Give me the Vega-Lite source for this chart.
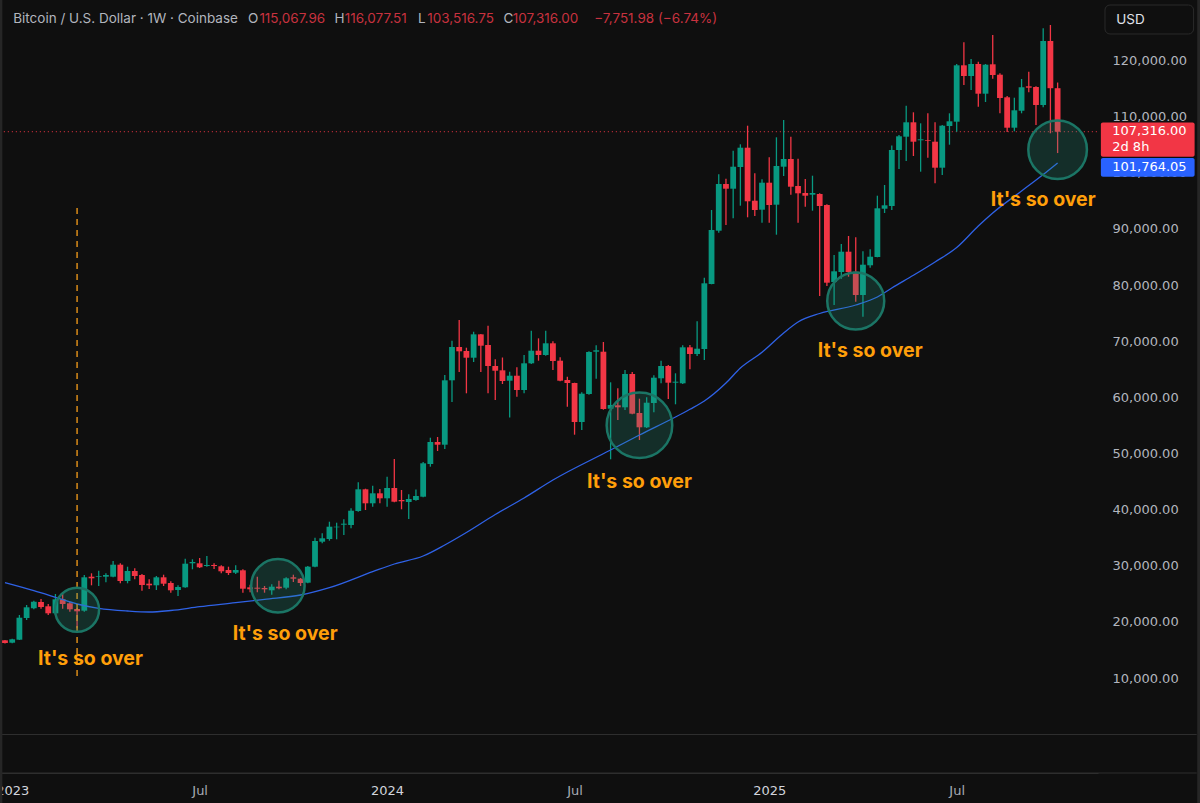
{
  "$schema": "https://vega.github.io/schema/vega-lite/v6.json",
  "autosize": {"type": "none"},
  "width": 1098,
  "height": 773,
  "padding": {"left": 0, "top": 0, "right": 102, "bottom": 30},
  "background": "#0f0f0f",
  "view": {"stroke": null},
  "config": {"font": "Inter"},
  "resolve": {"scale": {"color": "independent"}},
  "datasets": {
    "candles": [
      {"d":"2022-12-26","o":16738,"h":16791,"l":16168,"c":16257},
      {"d":"2023-01-02","o":16310,"h":17023,"l":16203,"c":16916},
      {"d":"2023-01-09","o":16844,"h":21243,"l":16791,"c":20763},
      {"d":"2023-01-16","o":20709,"h":23025,"l":20353,"c":22615},
      {"d":"2023-01-23","o":22437,"h":23790,"l":22259,"c":23612},
      {"d":"2023-01-30","o":23559,"h":24093,"l":22366,"c":22668},
      {"d":"2023-02-06","o":22793,"h":23203,"l":21243,"c":21546},
      {"d":"2023-02-13","o":21546,"h":24984,"l":21243,"c":24040},
      {"d":"2023-02-20","o":24040,"h":25108,"l":22366,"c":23203},
      {"d":"2023-02-27","o":23327,"h":23612,"l":21831,"c":22259},
      {"d":"2023-03-06","o":22312,"h":22490,"l":18875,"c":21902},
      {"d":"2023-03-13","o":22009,"h":28368,"l":21831,"c":27958},
      {"d":"2023-03-20","o":28065,"h":28670,"l":26533,"c":27780},
      {"d":"2023-03-27","o":28065,"h":29133,"l":26408,"c":28189},
      {"d":"2023-04-03","o":28065,"h":28670,"l":27067,"c":28368},
      {"d":"2023-04-10","o":28065,"h":30861,"l":27958,"c":30202},
      {"d":"2023-04-17","o":30202,"h":30451,"l":26889,"c":27299},
      {"d":"2023-04-24","o":27299,"h":29846,"l":26889,"c":29080},
      {"d":"2023-05-01","o":29080,"h":29561,"l":27602,"c":28189},
      {"d":"2023-05-08","o":28368,"h":28546,"l":25571,"c":26587},
      {"d":"2023-05-15","o":26818,"h":27602,"l":25874,"c":26533},
      {"d":"2023-05-22","o":26533,"h":28189,"l":25696,"c":27958},
      {"d":"2023-05-29","o":27958,"h":28421,"l":26408,"c":26818},
      {"d":"2023-06-05","o":26943,"h":27245,"l":25215,"c":25643},
      {"d":"2023-06-12","o":25696,"h":26533,"l":24627,"c":26230},
      {"d":"2023-06-19","o":26177,"h":31271,"l":26106,"c":30380},
      {"d":"2023-06-26","o":30451,"h":31164,"l":29383,"c":30683},
      {"d":"2023-07-03","o":30451,"h":31395,"l":29614,"c":29739},
      {"d":"2023-07-10","o":29970,"h":31751,"l":29846,"c":30149},
      {"d":"2023-07-17","o":30149,"h":30451,"l":29436,"c":29970},
      {"d":"2023-07-24","o":29917,"h":30095,"l":28670,"c":29027},
      {"d":"2023-07-31","o":29258,"h":29846,"l":28368,"c":28724},
      {"d":"2023-08-07","o":28777,"h":30095,"l":28546,"c":29258},
      {"d":"2023-08-14","o":29205,"h":29383,"l":25215,"c":25928},
      {"d":"2023-08-21","o":26177,"h":26640,"l":25286,"c":25821},
      {"d":"2023-08-28","o":26106,"h":28065,"l":25286,"c":25928},
      {"d":"2023-09-04","o":26052,"h":26408,"l":25215,"c":25821},
      {"d":"2023-09-11","o":25643,"h":26711,"l":24859,"c":26284},
      {"d":"2023-09-18","o":26284,"h":27352,"l":25821,"c":25999},
      {"d":"2023-09-25","o":26106,"h":27958,"l":25821,"c":27780},
      {"d":"2023-10-02","o":27958,"h":28421,"l":27121,"c":27709},
      {"d":"2023-10-09","o":27709,"h":27833,"l":26408,"c":26943},
      {"d":"2023-10-16","o":27000,"h":29970,"l":26889,"c":29846},
      {"d":"2023-10-23","o":29846,"h":35011,"l":29739,"c":34423},
      {"d":"2023-10-30","o":34298,"h":35795,"l":34013,"c":34904},
      {"d":"2023-11-06","o":34779,"h":37860,"l":34476,"c":36970},
      {"d":"2023-11-13","o":36863,"h":37682,"l":34726,"c":36970},
      {"d":"2023-11-20","o":37326,"h":38288,"l":35492,"c":37504},
      {"d":"2023-11-27","o":37273,"h":40247,"l":36684,"c":39819},
      {"d":"2023-12-04","o":39766,"h":44877,"l":39641,"c":43631},
      {"d":"2023-12-11","o":43631,"h":43738,"l":39944,"c":41137},
      {"d":"2023-12-18","o":41137,"h":44272,"l":40532,"c":42918},
      {"d":"2023-12-25","o":42918,"h":43684,"l":41137,"c":42027},
      {"d":"2024-01-01","o":42027,"h":45875,"l":40532,"c":43862},
      {"d":"2024-01-08","o":43862,"h":49027,"l":41315,"c":41422},
      {"d":"2024-01-15","o":41725,"h":43506,"l":40069,"c":41494},
      {"d":"2024-01-22","o":41369,"h":42740,"l":38341,"c":41903},
      {"d":"2024-01-29","o":41725,"h":43595,"l":41600,"c":42437},
      {"d":"2024-02-05","o":42313,"h":48493,"l":42206,"c":48261},
      {"d":"2024-02-12","o":48137,"h":52820,"l":47656,"c":52055},
      {"d":"2024-02-19","o":52055,"h":52946,"l":50452,"c":51574},
      {"d":"2024-02-26","o":51574,"h":63990,"l":50808,"c":63042},
      {"d":"2024-03-04","o":63042,"h":70095,"l":59179,"c":68973},
      {"d":"2024-03-11","o":68973,"h":73783,"l":64536,"c":68207},
      {"d":"2024-03-18","o":68261,"h":68849,"l":60727,"c":67068},
      {"d":"2024-03-25","o":67068,"h":71692,"l":66302,"c":71229},
      {"d":"2024-04-01","o":71229,"h":71283,"l":64536,"c":69206},
      {"d":"2024-04-08","o":69330,"h":72768,"l":60727,"c":65590},
      {"d":"2024-04-15","o":65590,"h":66783,"l":59535,"c":64750},
      {"d":"2024-04-22","o":64821,"h":67104,"l":62385,"c":62919},
      {"d":"2024-04-29","o":62972,"h":64577,"l":56437,"c":63861},
      {"d":"2024-05-06","o":63861,"h":65357,"l":60121,"c":61316},
      {"d":"2024-05-13","o":61316,"h":67549,"l":60727,"c":66070},
      {"d":"2024-05-20","o":66070,"h":71878,"l":65946,"c":68315},
      {"d":"2024-05-27","o":68315,"h":70517,"l":66534,"c":67549},
      {"d":"2024-06-03","o":67549,"h":71878,"l":67424,"c":69633},
      {"d":"2024-06-10","o":69633,"h":69990,"l":64877,"c":66480},
      {"d":"2024-06-17","o":66534,"h":67139,"l":62866,"c":62972},
      {"d":"2024-06-24","o":63097,"h":63687,"l":58343,"c":62564},
      {"d":"2024-07-01","o":62564,"h":62618,"l":53356,"c":55617},
      {"d":"2024-07-08","o":55617,"h":60906,"l":54192,"c":60659},
      {"d":"2024-07-15","o":60603,"h":68209,"l":60478,"c":68084},
      {"d":"2024-07-22","o":68137,"h":69277,"l":63331,"c":68387},
      {"d":"2024-07-29","o":68137,"h":69864,"l":57809,"c":57932},
      {"d":"2024-08-05","o":57985,"h":62688,"l":48974,"c":58644},
      {"d":"2024-08-12","o":58590,"h":61618,"l":55973,"c":58234},
      {"d":"2024-08-19","o":58234,"h":64878,"l":57753,"c":64165},
      {"d":"2024-08-26","o":64165,"h":64521,"l":56989,"c":57096},
      {"d":"2024-09-02","o":57221,"h":59768,"l":52411,"c":54672},
      {"d":"2024-09-09","o":54672,"h":60018,"l":54547,"c":59054},
      {"d":"2024-09-16","o":59001,"h":63934,"l":57345,"c":63509},
      {"d":"2024-09-23","o":63402,"h":66534,"l":62509,"c":65590},
      {"d":"2024-09-30","o":65590,"h":65768,"l":59713,"c":62617},
      {"d":"2024-10-07","o":62617,"h":64291,"l":58771,"c":62795},
      {"d":"2024-10-14","o":62509,"h":69277,"l":62385,"c":68919},
      {"d":"2024-10-21","o":68919,"h":69330,"l":65003,"c":67727},
      {"d":"2024-10-28","o":67727,"h":73552,"l":67371,"c":68672},
      {"d":"2024-11-04","o":68618,"h":81317,"l":66659,"c":80319},
      {"d":"2024-11-11","o":80195,"h":93374,"l":80141,"c":89812},
      {"d":"2024-11-18","o":89687,"h":99733,"l":89331,"c":98005},
      {"d":"2024-11-25","o":98005,"h":98949,"l":90703,"c":97167},
      {"d":"2024-12-02","o":97167,"h":103935,"l":91895,"c":101086},
      {"d":"2024-12-09","o":101033,"h":105075,"l":94140,"c":104470},
      {"d":"2024-12-16","o":104470,"h":108388,"l":92074,"c":94924},
      {"d":"2024-12-23","o":95030,"h":99910,"l":92305,"c":93374},
      {"d":"2024-12-30","o":93428,"h":98841,"l":91112,"c":98237},
      {"d":"2025-01-06","o":98237,"h":102760,"l":91112,"c":94264},
      {"d":"2025-01-13","o":94318,"h":106322,"l":88975,"c":101211},
      {"d":"2025-01-20","o":101086,"h":109403,"l":99429,"c":102457},
      {"d":"2025-01-27","o":102457,"h":106429,"l":96099,"c":97523},
      {"d":"2025-02-03","o":97648,"h":102510,"l":91112,"c":96348},
      {"d":"2025-02-10","o":96402,"h":98895,"l":93963,"c":95921},
      {"d":"2025-02-17","o":96099,"h":99483,"l":93250,"c":96402},
      {"d":"2025-02-24","o":96223,"h":96348,"l":78057,"c":94086},
      {"d":"2025-03-03","o":94264,"h":94389,"l":79839,"c":80427},
      {"d":"2025-03-10","o":80551,"h":85360,"l":76454,"c":82457},
      {"d":"2025-03-17","o":82332,"h":87319,"l":81139,"c":85948},
      {"d":"2025-03-24","o":85948,"h":88744,"l":81495,"c":82332},
      {"d":"2025-03-31","o":82385,"h":88512,"l":77044,"c":78236},
      {"d":"2025-04-07","o":78236,"h":86018,"l":74372,"c":83632},
      {"d":"2025-04-14","o":83525,"h":86375,"l":83097,"c":85056},
      {"d":"2025-04-21","o":85003,"h":95921,"l":84950,"c":93677},
      {"d":"2025-04-28","o":93605,"h":97826,"l":92840,"c":94211},
      {"d":"2025-05-05","o":94086,"h":104862,"l":93374,"c":104060},
      {"d":"2025-05-12","o":104060,"h":106732,"l":100676,"c":106500},
      {"d":"2025-05-19","o":106429,"h":111950,"l":102101,"c":108994},
      {"d":"2025-05-26","o":108994,"h":110774,"l":102991,"c":105538},
      {"d":"2025-06-02","o":105788,"h":108815,"l":100196,"c":105966},
      {"d":"2025-06-09","o":105841,"h":110596,"l":102689,"c":105716},
      {"d":"2025-06-16","o":105538,"h":108994,"l":98129,"c":100907},
      {"d":"2025-06-23","o":100907,"h":108512,"l":99607,"c":108388},
      {"d":"2025-06-30","o":108334,"h":110596,"l":105003,"c":109171},
      {"d":"2025-07-07","o":109100,"h":119377,"l":107319,"c":119145},
      {"d":"2025-07-14","o":119145,"h":123241,"l":115636,"c":117239},
      {"d":"2025-07-21","o":117239,"h":120267,"l":114746,"c":119377},
      {"d":"2025-07-28","o":119377,"h":119786,"l":111771,"c":114087},
      {"d":"2025-08-04","o":114087,"h":119377,"l":112609,"c":119252},
      {"d":"2025-08-11","o":119323,"h":124541,"l":116758,"c":117417},
      {"d":"2025-08-18","o":117471,"h":117720,"l":110596,"c":113322},
      {"d":"2025-08-25","o":113446,"h":113677,"l":107266,"c":108032},
      {"d":"2025-09-01","o":108032,"h":113375,"l":107390,"c":111131},
      {"d":"2025-09-08","o":111059,"h":116705,"l":110596,"c":115227},
      {"d":"2025-09-15","o":115405,"h":118005,"l":114336,"c":115155},
      {"d":"2025-09-22","o":115280,"h":115405,"l":108512,"c":112075},
      {"d":"2025-09-29","o":112075,"h":125735,"l":111665,"c":123473},
      {"d":"2025-10-06","o":123473,"h":126323,"l":107034,"c":115067},
      {"d":"2025-10-13","o":115067.96,"h":116077.51,"l":103516.75,"c":107316}
    ],
    "ma": [
      {"d":"2022-12-26","v":26996},{"d":"2023-01-23","v":25571},{"d":"2023-02-13","v":24396},
      {"d":"2023-03-06","v":23203},{"d":"2023-03-27","v":22437},{"d":"2023-04-24","v":21956},
      {"d":"2023-05-15","v":21778},{"d":"2023-06-05","v":22045},{"d":"2023-07-03","v":22722},
      {"d":"2023-08-07","v":23434},{"d":"2023-09-04","v":24040},{"d":"2023-10-09","v":24806},
      {"d":"2023-11-06","v":26106},{"d":"2023-12-18","v":28955},{"d":"2024-01-08","v":30327},
      {"d":"2024-02-05","v":31751},{"d":"2024-02-26","v":33711},{"d":"2024-03-18","v":35937},
      {"d":"2024-04-15","v":39143},{"d":"2024-05-13","v":42081},{"d":"2024-06-10","v":45287},
      {"d":"2024-08-05","v":50630},{"d":"2024-09-02","v":53302},{"d":"2024-10-07","v":56508},
      {"d":"2024-10-21","v":57879},{"d":"2024-11-04","v":59357},{"d":"2024-11-25","v":62564},
      {"d":"2024-12-09","v":65234},{"d":"2024-12-30","v":68030},{"d":"2025-01-20","v":71468},
      {"d":"2025-02-03","v":73426},{"d":"2025-02-24","v":74942},{"d":"2025-03-31","v":76454},
      {"d":"2025-04-21","v":77879},{"d":"2025-05-05","v":79482},{"d":"2025-05-26","v":81744},
      {"d":"2025-06-16","v":84113},{"d":"2025-07-07","v":86695},{"d":"2025-07-28","v":90525},
      {"d":"2025-08-11","v":92840},{"d":"2025-09-08","v":96758},{"d":"2025-09-29","v":99697},
      {"d":"2025-10-13","v":101764.05}
    ]
  },
  "encoding": {
    "x": {
      "field": "d",
      "type": "temporal",
      "title": null,
      "scale": {"type": "utc", "domain": [1671595200000, 1763701200000], "nice": false, "padding": 0},
      "axis": {
        "values": [1672617600000, 1688342400000, 1704067200000, 1719792000000, 1736121600000, 1751846400000],
        "labelExpr": "utcFormat(datum.value,'%m')=='01' ? utcFormat(datum.value,'%Y') : utcFormat(datum.value,'%b')",
        "grid": false,
        "ticks": false,
        "domain": true,
        "domainColor": "#2e2e2e",
        "domainWidth": 1,
        "labelPadding": 11,
        "labelFont": "DejaVu Sans",
        "labelFontSize": 13,
        "labelOverlap": false,
        "labelColor": {"condition": {"test": "utcmonth(datum.value)==0", "value": "#d1d4dc"}, "value": "#a8abb3"}
      }
    },
    "y": {
      "field": "v",
      "type": "quantitative",
      "title": null,
      "scale": {"domain": [-6896, 130775], "nice": false, "zero": false, "padding": 0},
      "axis": {
        "values": [10000, 20000, 30000, 40000, 50000, 60000, 70000, 80000, 90000, 100000, 110000, 120000],
        "format": ",.2f",
        "orient": "right",
        "grid": false,
        "ticks": false,
        "domain": false,
        "labelPadding": 14,
        "labelFont": "DejaVu Sans",
        "labelFontSize": 13,
        "labelColor": "#b2b5be"
      }
    }
  },
  "layer": [
    {
      "data": {"values": [
        {"d": "2022-12-21", "d2": "2026-02-25", "v": -40},
        {"d": "2022-12-21", "d2": "2026-02-25", "v": -6896}
      ]},
      "mark": {"type": "rule", "color": "#2e2e2e", "strokeWidth": 1},
      "encoding": {"x2": {"field": "d2"}}
    },
    {
      "data": {"values": [{"d": "2022-12-21", "d2": "2025-11-21", "v": 107316}]},
      "mark": {"type": "rule", "color": "#f23645", "strokeWidth": 1, "strokeDash": [1, 3]},
      "encoding": {"x2": {"field": "d2"}}
    },
    {
      "data": {"values": [
        {"d": "2022-12-22", "v": 130775, "v2": -12236},
        {"d": "2026-02-27", "v": 130775, "v2": -12236}
      ]},
      "mark": {"type": "rule", "color": "#262626", "strokeWidth": 3},
      "encoding": {"y2": {"field": "v2"}}
    },
    {
      "data": {"name": "candles"},
      "transform": [{"fold": ["l"], "as": ["wick_from", "v"]}],
      "mark": {"type": "rule", "strokeWidth": 1.3},
      "encoding": {
        "y2": {"field": "h"},
        "color": {"condition": {"test": "datum.c>=datum.o", "value": "#089981"}, "value": "#f23645"}
      }
    },
    {
      "data": {"name": "candles"},
      "transform": [{"fold": ["o"], "as": ["body_from", "v"]}],
      "mark": {"type": "bar", "width": 5.8},
      "encoding": {
        "y2": {"field": "c"},
        "color": {"condition": {"test": "datum.c>=datum.o", "value": "#089981"}, "value": "#f23645"}
      }
    },
    {
      "data": {"name": "ma"},
      "mark": {"type": "line", "color": "#2f62e6", "strokeWidth": 1.3, "interpolate": "monotone"}
    },
    {
      "data": {"values": [{"d": "2023-03-06", "v": 93730, "v2": 9667}]},
      "mark": {"type": "rule", "color": "#e8951a", "strokeWidth": 1.4, "strokeDash": [6, 5]},
      "encoding": {"y2": {"field": "v2"}}
    },
    {
      "data": {"values": [
        {"d": "2023-03-06", "v": 22187, "zone": "a"},
        {"d": "2023-09-17", "v": 26462, "zone": "b"},
        {"d": "2024-09-02", "v": 55030, "zone": "c"},
        {"d": "2025-03-31", "v": 77167, "zone": "d"},
        {"d": "2025-10-13", "v": 104113, "zone": "e"}
      ]},
      "mark": {"type": "point", "shape": "circle", "fill": "#2aa18a", "fillOpacity": 0.22, "stroke": "#1b7565", "strokeWidth": 2.5, "opacity": 1},
      "encoding": {
        "size": {
          "field": "zone",
          "type": "nominal",
          "legend": null,
          "scale": {"type": "ordinal", "domain": ["a", "b", "c", "d", "e"], "range": [1936, 2852, 4303, 3249, 3434]}
        }
      }
    },
    {
      "data": {"values": [
        {"d": "2023-03-19", "v": 13407, "t": "It's so over"},
        {"d": "2023-09-24", "v": 17860, "t": "It's so over"},
        {"d": "2024-09-02", "v": 44931, "t": "It's so over"},
        {"d": "2025-04-14", "v": 68262, "t": "It's so over"},
        {"d": "2025-09-29", "v": 95155, "t": "It's so over"}
      ]},
      "mark": {"type": "text", "color": "#ff9f0a", "font": "Inter", "fontSize": 19.5, "fontWeight": 700, "align": "center", "baseline": "middle"},
      "encoding": {"text": {"field": "t"}}
    },
    {
      "data": {"values": [
        {"d": "2023-01-03", "v": 127480, "t": "Bitcoin / U.S. Dollar · 1W · Coinbase", "kind": "label"},
        {"d": "2023-08-19", "v": 127480, "t": "O", "kind": "label"},
        {"d": "2023-08-30", "v": 127480, "t": "115,067.96", "kind": "value"},
        {"d": "2023-11-11", "v": 127480, "t": "H", "kind": "label"},
        {"d": "2023-11-21", "v": 127480, "t": "116,077.51", "kind": "value"},
        {"d": "2024-01-31", "v": 127480, "t": "L", "kind": "label"},
        {"d": "2024-02-09", "v": 127480, "t": "103,516.75", "kind": "value"},
        {"d": "2024-04-23", "v": 127480, "t": "C", "kind": "label"},
        {"d": "2024-05-02", "v": 127480, "t": "107,316.00", "kind": "value"},
        {"d": "2024-07-20", "v": 127480, "t": "−7,751.98 (−6.74%)", "kind": "value"}
      ]},
      "mark": {"type": "text", "font": "Inter", "fontSize": 13.5, "align": "left", "baseline": "middle"},
      "encoding": {
        "text": {"field": "t"},
        "color": {
          "field": "kind",
          "type": "nominal",
          "legend": null,
          "scale": {"domain": ["label", "value"], "range": ["#b2b5be", "#c8323f"]}
        }
      }
    },
    {
      "data": {"values": [
        {"d": "2025-11-24", "d2": "2026-02-23", "v": 108950, "v2": 102860, "tag": "price"},
        {"d": "2025-11-24", "d2": "2026-02-23", "v": 102630, "v2": 99310, "tag": "ma"}
      ]},
      "mark": {"type": "rect", "cornerRadius": 2},
      "encoding": {
        "x2": {"field": "d2"},
        "y2": {"field": "v2"},
        "color": {
          "field": "tag",
          "type": "nominal",
          "legend": null,
          "scale": {"domain": ["price", "ma"], "range": ["#f23645", "#2962ff"]}
        }
      }
    },
    {
      "data": {"values": [
        {"d": "2025-12-05", "v": 107460, "t": "107,316.00"},
        {"d": "2025-12-05", "v": 104610, "t": "2d 8h"},
        {"d": "2025-12-05", "v": 101030, "t": "101,764.05"}
      ]},
      "mark": {"type": "text", "color": "#ffffff", "font": "DejaVu Sans", "fontSize": 13, "align": "left", "baseline": "middle"},
      "encoding": {"text": {"field": "t"}}
    },
    {
      "data": {"values": [{"d": "2025-11-28", "d2": "2026-02-22", "v": 129884, "v2": 124720}]},
      "mark": {"type": "rect", "fillOpacity": 0, "stroke": "#2a2a2a", "strokeWidth": 1, "cornerRadius": 5},
      "encoding": {
        "x2": {"field": "d2"},
        "y2": {"field": "v2"}
      }
    },
    {
      "data": {"values": [{"d": "2025-12-09", "v": 127213, "t": "USD"}]},
      "mark": {"type": "text", "color": "#e0e3eb", "font": "Inter", "fontSize": 13.5, "align": "left", "baseline": "middle"},
      "encoding": {"text": {"field": "t"}}
    }
  ]
}
